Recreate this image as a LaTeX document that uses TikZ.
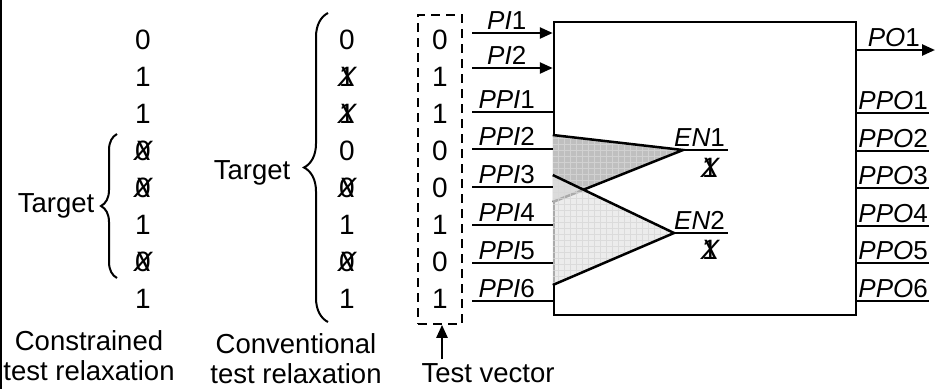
\documentclass[tikz,border=0pt]{standalone}
\usepackage{fontspec}
\setmainfont{Liberation Sans}
\usepackage{tikz}
\usetikzlibrary{positioning,arrows.meta,decorations.pathreplacing,fit}

\newcommand{\crossx}[1]{\ooalign{\hfil#1\hfil\cr\hfil\kern1pt\textit{X}\hfil}}

\begin{document}
\begin{tikzpicture}[
    x=1pt, y=-1pt,
    node distance=37pt,
    bit/.style={inner sep=0pt, font=\fontsize{28}{32}\selectfont},
    caption/.style={align=center, inner sep=0pt, font=\fontsize{27.5}{30}\selectfont},
    pin/.style={inner sep=2pt, font=\fontsize{26}{28}\selectfont},
    wire/.style={line width=2.5pt},
    arrow/.style={-{Triangle[length=13pt,width=11pt]}, line width=2.5pt},
    brace/.style={decorate, decoration={brace, amplitude=#1}, line width=2pt}
]
\useasboundingbox (0,0) rectangle (936,389);
\draw[line width=2pt] (1,0) -- (1,389);

% Constrained test relaxation
\node[bit] (c1) at (143,40) {0};
\node[bit, below of=c1] (c2) {1};
\node[bit, below of=c2] (c3) {1};
\node[bit, below of=c3] (c4) {\crossx{0}};
\node[bit, below of=c4] (c5) {\crossx{0}};
\node[bit, below of=c5] (c6) {1};
\node[bit, below of=c6] (c7) {\crossx{0}};
\node[bit, below of=c7] (c8) {1};
\draw[brace=16pt] (117,278) -- (117,134);
\node[caption] (ctarget) at (56,206) {Target};
\node[caption] (clabel) at (89,356) {Constrained\\test relaxation};

% Conventional test relaxation
\node[bit] (v1) at (347,40) {0};
\node[bit, below of=v1] (v2) {\crossx{1}};
\node[bit, below of=v2] (v3) {\crossx{1}};
\node[bit, below of=v3] (v4) {0};
\node[bit, below of=v4] (v5) {\crossx{0}};
\node[bit, below of=v5] (v6) {1};
\node[bit, below of=v6] (v7) {\crossx{0}};
\node[bit, below of=v7] (v8) {1};
\draw[brace=24pt] (328,322) -- (328,13);
\node[caption] (vtarget) at (252,173) {Target};
\node[caption] (vlabel) at (296,359) {Conventional\\test relaxation};

% Test vector
\node[bit] (t1) at (440,40) {0};
\node[bit, below of=t1] (t2) {1};
\node[bit, below of=t2] (t3) {1};
\node[bit, below of=t3] (t4) {0};
\node[bit, below of=t4] (t5) {0};
\node[bit, below of=t5] (t6) {1};
\node[bit, below of=t6] (t7) {0};
\node[bit, below of=t7] (t8) {1};
\node[draw, line width=2pt, dash pattern=on 9pt off 6pt, fit=(t1)(t8), inner xsep=14pt, inner ysep=15pt] (tv) {};
\node[caption] (tvlabel) at (488,373) {Test vector};
\coordinate (tvfoot) at (442,359);
\draw[arrow] (tvfoot) -- (tvfoot |- tv.south);

% Circuit
\node[draw, line width=2.5pt, minimum width=302pt, minimum height=293pt] (core) at (705,168.5) {};

% Enable cones
\coordinate (a1) at (core.west |- 0,135);
\coordinate (a2) at (core.west |- 0,202);
\coordinate (en1) at (683,150);
\coordinate (en1end) at (728,150);
\coordinate (b1) at (core.west |- 0,175);
\coordinate (b2) at (core.west |- 0,285);
\coordinate (en2) at (674,233);
\coordinate (en2end) at (728,233);

\fill[gray!50] (a1) -- (en1) -- (a2) -- cycle;
\begin{scope}
  \clip (a1) -- (en1) -- (a2) -- cycle;
  \draw[gray!36, line width=0.6pt, step=6pt] (540,120) grid (700,300);
\end{scope}
\draw[wire, line join=miter] (a1) -- (en1) -- (a2);

\begin{scope}[fill opacity=0.75, draw opacity=0.75]
  \fill[gray!20] (b1) -- (en2) -- (b2) -- cycle;
  \clip (b1) -- (en2) -- (b2) -- cycle;
  \draw[gray!32, line width=0.6pt, step=6pt] (540,120) grid (700,300);
\end{scope}
\draw[wire, line join=miter] (b1) -- (en2) -- (b2);

\draw[wire] (en1) -- (en1end);
\draw[wire] (en2) -- (en2end);
\node[pin, anchor=south east] (en1label) at (727,149) {\textit{EN}1};
\node[bit] (en1val) at (710,168) {\crossx{1}};
\node[pin, anchor=south east] (en2label) at (727,232) {\textit{EN}2};
\node[bit] (en2val) at (710,250) {\crossx{1}};

% Inputs
\coordinate (pi1) at (472,33);
\coordinate (pi2) at (472,68);
\coordinate (ppi1) at (472,112);
\coordinate (ppi2) at (472,149);
\coordinate (ppi3) at (472,187);
\coordinate (ppi4) at (472,225);
\coordinate (ppi5) at (472,263);
\coordinate (ppi6) at (472,301);
\draw[arrow] (pi1) -- (pi1 -| core.west) node[pin, pos=0.43, above] {\textit{PI}1};
\draw[arrow] (pi2) -- (pi2 -| core.west) node[pin, pos=0.43, above] {\textit{PI}2};
\draw[wire] (ppi1) -- (ppi1 -| core.west) node[pin, pos=0.43, above] {\textit{PPI}1};
\draw[wire] (ppi2) -- (ppi2 -| core.west) node[pin, pos=0.43, above] {\textit{PPI}2};
\draw[wire] (ppi3) -- (ppi3 -| core.west) node[pin, pos=0.43, above] {\textit{PPI}3};
\draw[wire] (ppi4) -- (ppi4 -| core.west) node[pin, pos=0.43, above] {\textit{PPI}4};
\draw[wire] (ppi5) -- (ppi5 -| core.west) node[pin, pos=0.43, above] {\textit{PPI}5};
\draw[wire] (ppi6) -- (ppi6 -| core.west) node[pin, pos=0.43, above] {\textit{PPI}6};

% Outputs
\coordinate (po1) at (935,50);
\coordinate (ppo1) at (929,113);
\coordinate (ppo2) at (929,151);
\coordinate (ppo3) at (929,188);
\coordinate (ppo4) at (929,226);
\coordinate (ppo5) at (929,263);
\coordinate (ppo6) at (929,301);
\draw[arrow] (po1 -| core.east) -- (po1) node[pin, pos=0.47, above] {\textit{PO}1};
\draw[wire] (ppo1 -| core.east) -- (ppo1) node[pin, midway, above] {\textit{PPO}1};
\draw[wire] (ppo2 -| core.east) -- (ppo2) node[pin, midway, above] {\textit{PPO}2};
\draw[wire] (ppo3 -| core.east) -- (ppo3) node[pin, midway, above] {\textit{PPO}3};
\draw[wire] (ppo4 -| core.east) -- (ppo4) node[pin, midway, above] {\textit{PPO}4};
\draw[wire] (ppo5 -| core.east) -- (ppo5) node[pin, midway, above] {\textit{PPO}5};
\draw[wire] (ppo6 -| core.east) -- (ppo6) node[pin, midway, above] {\textit{PPO}6};

\end{tikzpicture}
\end{document}
